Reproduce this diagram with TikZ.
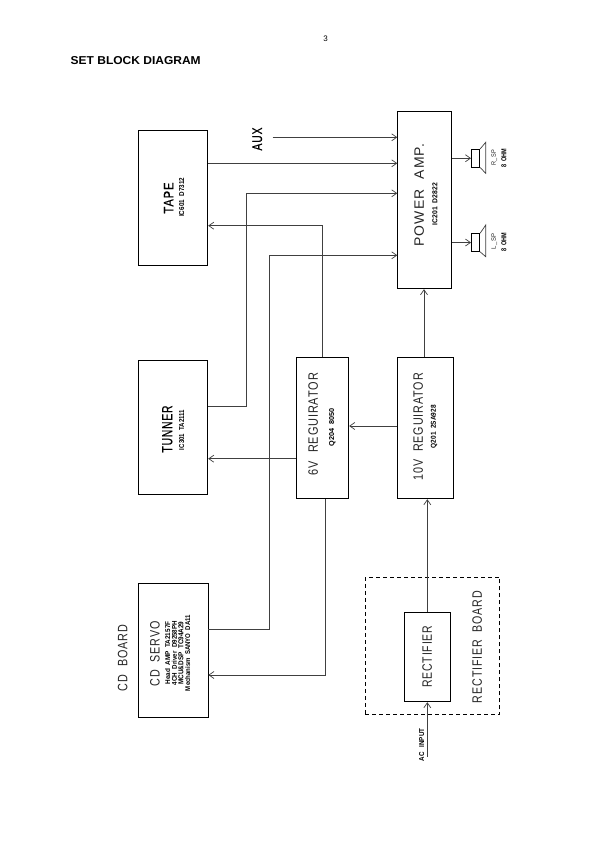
\documentclass[tikz,border=0pt]{standalone}
\usepackage{fontspec}
\usepackage{graphicx}
\setmainfont{Liberation Sans}
\newfontfamily\lsp[LetterSpace=8]{Liberation Sans}
\newfontfamily\lspb[LetterSpace=8,FakeBold=0.6]{Liberation Sans}
\usetikzlibrary{arrows.meta}
\newcommand{\lab}[7][]{\node[txt,#1] (#2) at (#3,#4) {\resizebox{#5pt}{#6pt}{#7}};}
\tikzset{
  box/.style={draw=black,line width=0.9pt,inner sep=0pt,rectangle,anchor=north west},
  wire/.style={line width=0.85pt,draw=black!75},
  arr/.style={wire,-{Straight Barb[length=5pt,width=7pt,line width=0.7pt]}},
  txt/.style={rotate=90,inner sep=0pt,text=black!85,font=\lsp},
  strong/.style={font=\lspb,text=black},
  small/.style={font=\bfseries,text=black},
}
\newcommand{\bx}[5]{\node[box,minimum width=#4pt-#2pt,minimum height=#5pt-#3pt] (#1) at (#2,#3) {};}
\begin{document}
\begin{tikzpicture}[x=1pt,y=-1pt]
\useasboundingbox (0,0) rectangle (595,842);
\fill[white] (0,0) rectangle (595,842);
\node[inner sep=0pt,anchor=center,font=\fontsize{8}{9}\selectfont] (pg) at (325.5,39) {3};
\node[inner sep=0pt,anchor=west] (title) at (70.5,60.5) {\resizebox{130pt}{8pt}{\bfseries SET BLOCK DIAGRAM}};
\bx{tape}{138.3}{130.3}{207.3}{265.3}
\bx{power}{397.3}{111.3}{450.7}{288.3}
\bx{tuner}{138.3}{360.3}{207.3}{494.3}
\bx{six}{295.7}{357.3}{348.3}{498.3}
\bx{ten}{397.3}{357.3}{453.3}{498.3}
\bx{cd}{138.3}{583.3}{207.5}{717.3}
\bx{rect}{404.3}{612.3}{450.3}{701.3}
\node[box,dashed,dash pattern=on 4pt off 3pt,minimum width=134.6pt,minimum height=137.3pt] (board) at (364.7,577) {};
\node[box,line width=0.8pt,minimum width=8.3pt,minimum height=17.7pt] (rspk) at (471,149) {};
\node[box,line width=0.8pt,minimum width=8.3pt,minimum height=17.7pt] (lspk) at (471,233.3) {};
\draw[line width=0.7pt,black!75] (rspk.north east) -- (485.7,142.3) -- (485.7,173.3) -- (rspk.south east);
\draw[line width=0.7pt,black!75] (lspk.north east) -- (485.7,225) -- (485.7,256.7) -- (lspk.south east);
\coordinate (auxs) at (272.7,137.3);
\coordinate (acs) at (427.3,757);
\draw[arr] (auxs) -- (auxs -| power.west);
\draw[arr] (tape.east |- 0,163.3) -- (power.west |- 0,163.3);
\draw[arr] (tuner.east |- 0,406) -| (246.7,193.3) -- (power.west |- 0,193.3);
\draw[arr] (cd.east |- 0,629) -| (269.7,255.3) -- (power.west |- 0,255.3);
\draw[arr] (six.north -| 322.3,0) |- (tape.east |- 0,225.7);
\draw[arr] (six.west |- 0,458.7) -- (tuner.east |- 0,458.7);
\draw[arr] (ten.west |- 0,426) -- (six.east |- 0,426);
\draw[arr] (ten.north -| 424,0) -- (power.south -| 424,0);
\draw[arr] (rect.north -| 427.3,0) -- (ten.south -| 427.3,0);
\draw[arr] (six.south -| 325.3,0) |- (cd.east |- 0,675);
\draw[arr] (acs) -- (rect.south -| acs);
\draw[arr] (power.east |- rspk.west) -- (rspk.west);
\draw[arr] (power.east |- lspk.west) -- (lspk.west);
\lab[strong]{ltape}{168.7}{198}{31}{9.5}{TAPE}
\lab[small]{ltapeic}{181.7}{197.3}{39}{5}{IC601\ \ D7312}
\lab[strong]{laux}{257.3}{139}{23}{9.5}{AUX}
\lab{lpower}{419.3}{195}{103}{9.5}{POWER\ \ AMP.}
\lab[small]{lpoweric}{435}{204}{42}{5}{IC201\ \ D2822}
\lab{lrsp}{494.3}{158}{16}{4.5}{R\_SP}
\lab[small]{lrohm}{504}{158}{19}{5}{8\ \ OHM}
\lab{llsp}{494.3}{241.5}{16}{4.5}{L\_SP}
\lab[small]{llohm}{504}{242}{19}{5}{8\ \ OHM}
\lab[strong]{ltuner}{167.3}{429}{47}{10}{TUNNER}
\lab[small]{ltuneric}{181.7}{430}{40}{5}{IC301\ \ TA2111}
\lab{lsix}{313.3}{424}{102}{9.5}{6V\ \ REGUIRATOR}
\lab[small]{lsixic}{332.3}{427}{38}{5}{Q204\ \ 8050}
\lab{lten}{418.3}{426.7}{107}{9.5}{10V\ \ REGUIRATOR}
\lab[small]{ltenic}{434}{426.7}{43}{5}{Q201\ \ 2SA928}
\lab{lcd}{155}{654}{65}{9.5}{CD\ \ SERVO}
\lab[small]{lcda}{167.7}{653}{63}{5}{Head\ \ AMP\ \ TA2157F}
\lab[small]{lcdb}{174.3}{653}{64}{5}{4CH\ \ Driver\ \ D9258PH}
\lab[small]{lcdc}{180.9}{653}{63}{5}{MCU\&DSP\ \ TC94A29}
\lab[small]{lcdd}{187.7}{653}{76}{5}{Mechanism\ \ SANYO\ \ DA11}
\lab{lcdboard}{122.7}{658}{66}{9.5}{CD\ \ BOARD}
\lab{lrect}{427.3}{656.7}{62}{9.5}{RECTIFIER}
\lab{lrectb}{477.3}{647}{112}{9.5}{RECTIFIER\ \ BOARD}
\lab[small]{lac}{421.7}{745}{33}{5}{AC\ \ \ INPUT}
\end{tikzpicture}
\end{document}
